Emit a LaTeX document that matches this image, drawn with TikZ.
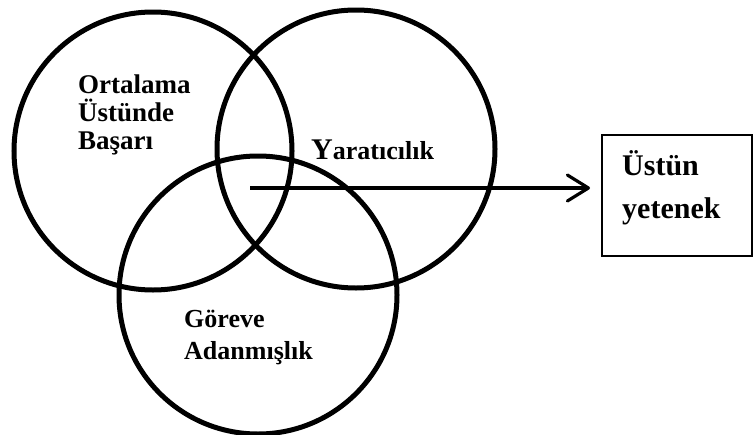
\documentclass[tikz,border=0pt]{standalone}
\usepackage{fontspec}
\setmainfont{Liberation Serif}
\usetikzlibrary{arrows.meta}
\begin{document}
\begin{tikzpicture}[x=1pt,y=-1pt,
  ring/.style={draw, line width=5pt, circle, minimum size=278pt, inner sep=0pt},
  lbl/.style={anchor=base west, align=left, inner sep=0pt,
    font=\bfseries\fontsize{27}{28}\selectfont},
  flow/.style={line width=3.2pt, -{Straight Barb[length=21pt, width=26pt, line cap=round, line join=round]}}
]
\useasboundingbox (0,0) rectangle (755,434);

% the three rings of the model
\node[ring] (ach)  at (153,151) {};
\node[ring] (cre)  at (356,149) {};
\node[ring] (task) at (258,295) {};

% ring labels (a multi-line node sits on the baseline of its last line)
\node[lbl] (achText) at (78,149) {Ortalama\\Üstünde\\Başarı};
\node[lbl, font=\bfseries] (creText) at (311,159)
  {{\fontsize{30}{30}\selectfont Y}{\fontsize{26}{28}\selectfont aratıcılık}};
\node[lbl, font=\bfseries\fontsize{26}{32}\selectfont] (taskText) at (184,359) {Göreve\\Adanmışlık};

% outcome box
\node[draw, line width=1.5pt, anchor=north west, minimum width=150pt,
      minimum height=121pt, inner sep=0pt] (gift) at (601,134) {};
\node[lbl, font=\bfseries\fontsize{30}{43}\selectfont] (giftText) at (622,218) {Üstün\\yetenek};

% arrow from the overlap to the box
\coordinate (core) at (250,188);
\draw[flow, shorten >=11pt] (core) -- (core -| gift.west);
\end{tikzpicture}
\end{document}
